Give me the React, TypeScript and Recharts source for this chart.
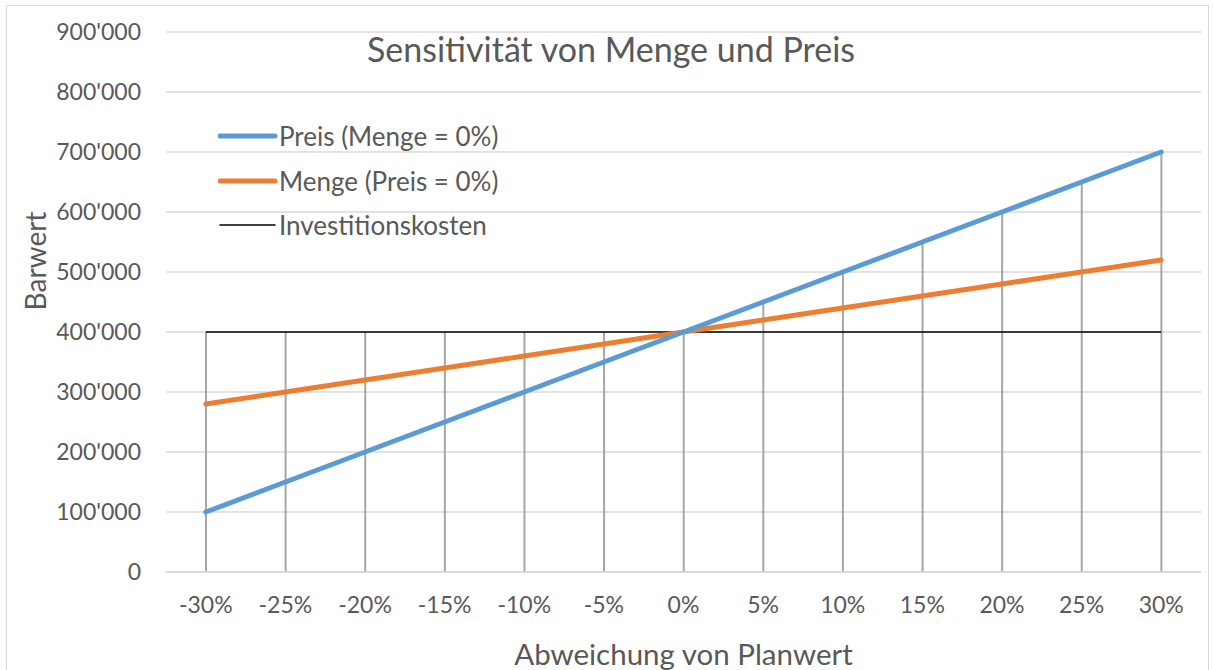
import React from 'react';
import {
  Bar,
  CartesianGrid,
  ComposedChart,
  Label,
  Legend,
  Line,
  XAxis,
  YAxis,
} from 'recharts';

const categories = ['-30%', '-25%', '-20%', '-15%', '-10%', '-5%', '0%', '5%', '10%', '15%', '20%', '25%', '30%'];
const preis = [100000, 150000, 200000, 250000, 300000, 350000, 400000, 450000, 500000, 550000, 600000, 650000, 700000];
const menge = [280000, 300000, 320000, 340000, 360000, 380000, 400000, 420000, 440000, 460000, 480000, 500000, 520000];
const investition = [400000, 400000, 400000, 400000, 400000, 400000, 400000, 400000, 400000, 400000, 400000, 400000, 400000];
const yTicks = [0, 100000, 200000, 300000, 400000, 500000, 600000, 700000, 800000, 900000];

const FONT = 'Lato, "Open Sans", sans-serif';
const TEXT = '#595959';

const legendItems = [
  { name: 'Preis (Menge = 0%)', color: '#5b9bd5', width: 5 },
  { name: 'Menge (Preis = 0%)', color: '#ed7d31', width: 5 },
  { name: 'Investitionskosten', color: '#000000', width: 1.5 },
];

// drop lines go from 0 up to the highest series at each category
const data = categories.map((c, i) => ({
  cat: c,
  preis: preis[i],
  menge: menge[i],
  invest: investition[i],
  drop: Math.max(preis[i], menge[i], investition[i]),
}));

const fmt = (v: number) => {
  if (v === 0) return '0';
  const s = String(v);
  return s.slice(0, s.length - 3) + "'" + s.slice(-3);
};

const LegendBox = () => (
  <div style={{ fontFamily: FONT, fontSize: 26, color: TEXT }}>
    {legendItems.map((it) => (
      <div key={it.name} style={{ display: 'flex', alignItems: 'center', height: 44.5 }}>
        <svg width={61} height={10}>
          <line x1={2} y1={5} x2={57} y2={5} stroke={it.color} strokeWidth={it.width} strokeLinecap="round" />
        </svg>
        <span>{it.name}</span>
      </div>
    ))}
  </div>
);

const App: React.FC = () => {
  return (
    <div style={{ position: 'absolute', left: 0, top: 0, width: 1213, height: 670, background: '#fff', overflow: 'hidden' }}>
      <div
        style={{
          position: 'absolute',
          left: 6,
          top: 5,
          width: 1203,
          height: 700,
          border: '1px solid #d9d9d9',
          boxSizing: 'border-box',
        }}
      />
      <div
        style={{
          position: 'absolute',
          left: 0,
          top: 28,
          width: 1222,
          textAlign: 'center',
          fontFamily: FONT,
          fontSize: 34,
          color: TEXT,
        }}
      >
        Sensitivität von Menge und Preis
      </div>
      <ComposedChart
        width={1213}
        height={670}
        data={data}
        margin={{ top: 32, right: 12, bottom: 0, left: 26 }}
      >
        <CartesianGrid horizontal vertical={false} stroke="#d9d9d9" strokeWidth={1.5} />
        <XAxis
          dataKey="cat"
          height={98}
          tickLine={false}
          tickSize={0}
          tickMargin={25}
          axisLine={{ stroke: '#d9d9d9', strokeWidth: 1.5 }}
          tick={{ fill: TEXT, fontSize: 23, fontFamily: FONT }}
          interval={0}
        >
          <Label
            value="Abweichung von Planwert"
            position="insideBottom"
            offset={5}
            style={{ fill: TEXT, fontSize: 29.5, fontFamily: FONT }}
          />
        </XAxis>
        <YAxis
          width={140}
          domain={[0, 900000]}
          ticks={yTicks}
          tickFormatter={fmt}
          axisLine={false}
          tickLine={false}
          tickSize={0}
          tickMargin={25}
          tick={{ fill: TEXT, fontSize: 23, fontFamily: FONT }}
        >
          <Label
            content={() => (
              <text
                x={35}
                y={261}
                transform="rotate(-90 35 261)"
                textAnchor="middle"
                dominantBaseline="central"
                style={{ fill: TEXT, fontSize: 28, fontFamily: FONT }}
              >
                Barwert
              </text>
            )}
          />
        </YAxis>
        <Legend
          layout="vertical"
          align="center"
          verticalAlign="middle"
          wrapperStyle={{ left: 218, top: 114, width: 340 }}
          content={() => <LegendBox />}
        />
        <Bar dataKey="drop" barSize={2} fill="#a6a6a6" legendType="none" isAnimationActive={false} />
        <Line
          dataKey="invest"
          name="Investitionskosten"
          stroke="#000000"
          strokeWidth={1.5}
          dot={false}
          isAnimationActive={false}
        />
        <Line
          dataKey="menge"
          name="Menge (Preis = 0%)"
          stroke="#ed7d31"
          strokeWidth={5}
          strokeLinecap="round"
          dot={false}
          isAnimationActive={false}
        />
        <Line
          dataKey="preis"
          name="Preis (Menge = 0%)"
          stroke="#5b9bd5"
          strokeWidth={5}
          strokeLinecap="round"
          dot={false}
          isAnimationActive={false}
        />
      </ComposedChart>
    </div>
  );
};

export default App;
